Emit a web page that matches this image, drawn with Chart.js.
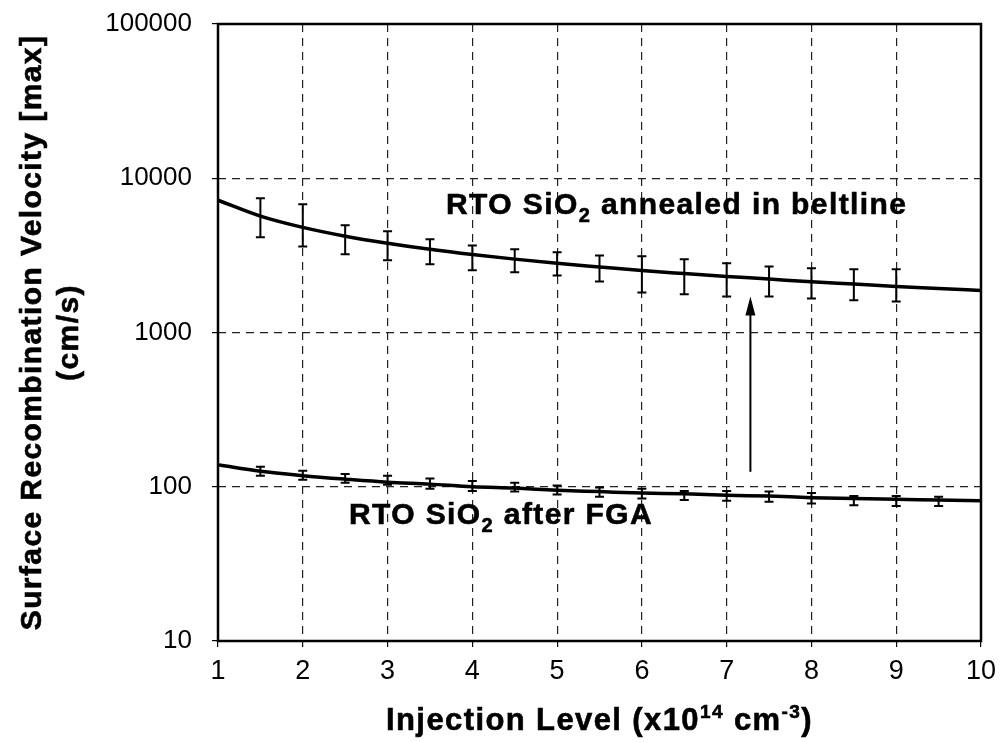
<!DOCTYPE html>
<html>
<head>
<meta charset="utf-8">
<script src="https://cdn.jsdelivr.net/npm/chart.js@4.4.0/dist/chart.umd.min.js"></script>
<style>
  html, body { margin: 0; padding: 0; background: #fff; }
  #wrap { width: 1003px; height: 742px; }
</style>
</head>
<body>
<div id="wrap"><canvas id="srvChart"></canvas></div>
<script>
// x values of the fitted curves (x10^14 cm^-3)
const injection = [1, 1.5, 2, 2.5, 3, 3.5, 4, 4.5, 5, 5.5, 6, 6.5, 7, 7.5, 8, 8.5, 9, 9.5, 10];
// fitted SRV curves (cm/s)
const beltlineSRV = [7200, 5680, 4800, 4210, 3790, 3460, 3200, 2990, 2810, 2660, 2520, 2410, 2310, 2220, 2130, 2060, 1990, 1930, 1870];
const fgaSRV = [139, 126, 118, 112, 107, 104, 100, 98, 95, 93, 91, 90, 88, 87, 85, 84, 83, 82, 81];

// error bars
const beltlineErrX = [1.5, 2, 2.5, 3, 3.5, 4, 4.5, 5, 5.5, 6, 6.5, 7, 7.5, 8, 8.5, 9];
const beltlineLow = [4140, 3610, 3210, 2940, 2770, 2530, 2460, 2340, 2140, 1820, 1770, 1710, 1710, 1660, 1620, 1590];
const beltlineHigh = [7410, 6780, 4960, 4530, 4020, 3670, 3460, 3310, 3160, 3120, 2980, 2810, 2680, 2610, 2570, 2570];

const fgaErrX = [1.5, 2, 2.5, 3, 3.5, 4, 4.5, 5, 5.5, 6, 6.5, 7, 7.5, 8, 8.5, 9, 9.5];
const fgaLow = [118, 111, 106, 103, 97, 94, 93, 89, 86, 84, 82, 81, 80, 78, 76, 75, 75];
const fgaHigh = [135, 127, 121, 118, 113, 109, 106, 102, 99, 97, 94, 94, 93, 91, 87, 87, 86];

const xTicks = [1, 2, 3, 4, 5, 6, 7, 8, 9, 10];
const yTicks = [10, 100, 1000, 10000, 100000];

// arrow from the FGA curve up to the beltline curve
const arrowX = 7.28;
const arrowFrom = 125;
const arrowTo = 1714;

const FONT = '"Liberation Sans", Arial, sans-serif';

function toXY(pts) {
    return pts.map((v, i) => ({ x: injection[i], y: v }));
}

// draw text made of pieces (normal, sub, sup) starting at x
function richText(ctx, parts, x, y, size, align) {
    ctx.save();
    ctx.textBaseline = 'alphabetic';
    ctx.textAlign = 'left';
    ctx.letterSpacing = '1.4px';
    let total = 0;
    parts.forEach(p => {
        ctx.font = 'bold ' + Math.round(size * (p.scale || 1)) + 'px ' + FONT;
        p.w = ctx.measureText(p.t).width;
        total += p.w;
    });
    let cx = align === 'center' ? x - total / 2 : x;
    parts.forEach(p => {
        ctx.font = 'bold ' + Math.round(size * (p.scale || 1)) + 'px ' + FONT;
        ctx.fillText(p.t, cx, y + (p.dy || 0));
        // fake a heavier stroke like the scanned original
        ctx.lineWidth = 0.6;
        ctx.strokeText(p.t, cx, y + (p.dy || 0));
        cx += p.w;
    });
    ctx.restore();
}

const errorBars = {
    id: 'errorBars',
    afterDatasetsDraw(chart) {
        const { ctx, scales: { x, y } } = chart;
        const sets = [[beltlineErrX, beltlineLow, beltlineHigh], [fgaErrX, fgaLow, fgaHigh]];
        ctx.save();
        ctx.strokeStyle = '#000';
        ctx.lineWidth = 2;
        sets.forEach(([xs, lo, hi]) => {
            xs.forEach((xv, i) => {
                const px = x.getPixelForValue(xv);
                const y1 = y.getPixelForValue(lo[i]);
                const y2 = y.getPixelForValue(hi[i]);
                ctx.beginPath();
                ctx.moveTo(px, y1); ctx.lineTo(px, y2);
                ctx.moveTo(px - 4.5, y1); ctx.lineTo(px + 4.5, y1);
                ctx.moveTo(px - 4.5, y2); ctx.lineTo(px + 4.5, y2);
                ctx.stroke();
            });
        });
        ctx.restore();
    }
};

const decorations = {
    id: 'decorations',
    afterDraw(chart) {
        const { ctx, chartArea: a, scales: { x, y } } = chart;
        ctx.save();
        ctx.fillStyle = '#000';
        ctx.strokeStyle = '#000';
        // frame
        ctx.lineWidth = 2.5;
        ctx.strokeRect(a.left, a.top, a.right - a.left, a.bottom - a.top);

        // arrow
        const ax = x.getPixelForValue(arrowX);
        const ay1 = y.getPixelForValue(arrowFrom);
        const ay2 = y.getPixelForValue(arrowTo);
        ctx.lineWidth = 2;
        ctx.beginPath();
        ctx.moveTo(ax, ay1); ctx.lineTo(ax, ay2 + 14);
        ctx.stroke();
        ctx.beginPath();
        ctx.moveTo(ax, ay2);
        ctx.lineTo(ax - 5, ay2 + 19);
        ctx.lineTo(ax + 5, ay2 + 19);
        ctx.closePath();
        ctx.fill();

        // curve labels
        richText(ctx, [
            { t: 'RTO SiO' }, { t: '2', scale: 0.68, dy: 8 }, { t: ' annealed in beltline' }
        ], x.getPixelForValue(3.69), y.getPixelForValue(5850), 30, 'left');
        richText(ctx, [
            { t: 'RTO SiO' }, { t: '2', scale: 0.68, dy: 8 }, { t: ' after FGA' }
        ], x.getPixelForValue(2.545), y.getPixelForValue(57.5), 30, 'left');

        // x axis title
        richText(ctx, [
            { t: 'Injection Level (x10' }, { t: '14', scale: 0.62, dy: -12 },
            { t: ' cm' }, { t: '-3', scale: 0.62, dy: -12 }, { t: ')' }
        ], (a.left + a.right) / 2, 730, 31, 'center');

        // y axis title, two rotated lines
        ctx.save();
        ctx.translate(41, (a.top + a.bottom) / 2);
        ctx.rotate(-Math.PI / 2);
        richText(ctx, [{ t: 'Surface Recombination Velocity [max]' }], 0, 0, 30, 'center');
        ctx.restore();
        ctx.save();
        ctx.translate(78, (a.top + a.bottom) / 2);
        ctx.rotate(-Math.PI / 2);
        richText(ctx, [{ t: '(cm/s)' }], 0, 0, 30, 'center');
        ctx.restore();

        ctx.restore();
    }
};

const ctx = document.getElementById('srvChart').getContext('2d');
new Chart(ctx, {
    type: 'line',
    data: {
        datasets: [{
            label: 'RTO SiO2 annealed in beltline',
            data: toXY(beltlineSRV),
            borderColor: '#000',
            borderWidth: 3.5,
            pointRadius: 0,
            cubicInterpolationMode: 'monotone',
            fill: false
        }, {
            label: 'RTO SiO2 after FGA',
            data: toXY(fgaSRV),
            borderColor: '#000',
            borderWidth: 3.5,
            pointRadius: 0,
            cubicInterpolationMode: 'monotone',
            fill: false
        }]
    },
    options: {
        responsive: true,
        maintainAspectRatio: false,
        animation: false,
        layout: { padding: { top: 24, right: 22, left: 0, bottom: 0 } },
        scales: {
            x: {
                type: 'linear',
                min: 1,
                max: 10,
                afterBuildTicks: s => { s.ticks = xTicks.map(v => ({ value: v })); },
                afterFit: s => { s.height = 101; s.paddingLeft = 0; s.paddingRight = 0; },
                ticks: {
                    color: '#000',
                    padding: 8,
                    font: { family: FONT, size: 27 }
                },
                grid: {
                    color: '#222',
                    lineWidth: 1.2,
                    tickLength: 6,
                    tickColor: '#000'
                },
                border: { display: false, dash: [8, 6] }
            },
            y: {
                type: 'logarithmic',
                min: 10,
                max: 100000,
                afterBuildTicks: s => { s.ticks = yTicks.map(v => ({ value: v })); },
                afterFit: s => { s.width = 218; s.paddingTop = 0; s.paddingBottom = 0; },
                ticks: {
                    color: '#000',
                    padding: 20,
                    font: { family: FONT, size: 26 },
                    callback: v => String(v)
                },
                grid: {
                    color: '#222',
                    lineWidth: 1.2,
                    tickLength: 6,
                    tickColor: '#000'
                },
                border: { display: false, dash: [8, 6] }
            }
        },
        plugins: {
            legend: { display: false },
            tooltip: { enabled: false }
        }
    },
    plugins: [errorBars, decorations]
});
</script>
</body>
</html>
